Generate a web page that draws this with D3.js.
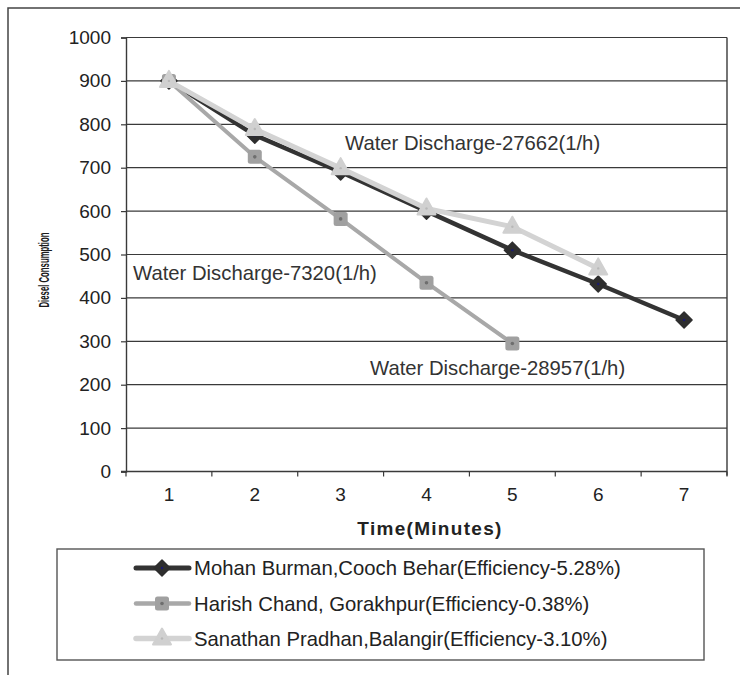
<!DOCTYPE html>
<html>
<head>
<meta charset="utf-8">
<script src="https://cdn.jsdelivr.net/npm/d3@7"></script>
<style>
  html, body { margin: 0; padding: 0; background: #fff; }
  svg { display: block; font-family: "Liberation Sans", Arial, Helvetica, sans-serif; }
</style>
</head>
<body>
<svg id="chart" width="740" height="675"></svg>
<script>
// Time steps (minutes) along the x axis
const times = ["1", "2", "3", "4", "5", "6", "7"];
// Diesel consumption for each trial
const mohan = [900, 775, 690, 600, 510, 432, 349];
const harish = [900, 725, 582, 435, 295];
const sanathan = [900, 789, 699, 606, 564, 468];
// Y axis ticks
const yTicks = [0, 100, 200, 300, 400, 500, 600, 700, 800, 900, 1000];
// Series names shown in the legend
const seriesNames = [
  "Mohan Burman,Cooch Behar(Efficiency-5.28%)",
  "Harish Chand, Gorakhpur(Efficiency-0.38%)",
  "Sanathan Pradhan,Balangir(Efficiency-3.10%)"
];
// Water discharge notes
const notes = [
  "Water Discharge-27662(1/h)",
  "Water Discharge-7320(1/h)",
  "Water Discharge-28957(1/h)"
];

const svg = d3.select("#chart");
const L = 126, R = 727, T = 37.5, B = 471.5;

const x = d3.scaleBand().domain(times).range([L, R]);
const y = d3.scaleLinear().domain([0, 1000]).range([B, T]);

// outer frame (top and left edges)
svg.append("path")
  .attr("d", "M8,675 L8,8 L740,8")
  .attr("fill", "none").attr("stroke", "#444").attr("stroke-width", 1.5);

// horizontal gridlines
svg.append("g").selectAll("line").data(yTicks.filter(v => v > 0)).join("line")
  .attr("x1", L).attr("x2", R)
  .attr("y1", d => y(d)).attr("y2", d => y(d))
  .attr("stroke", "#3a3a3a").attr("stroke-width", 1.2);

// right edge of plot area
svg.append("line")
  .attr("x1", R).attr("x2", R).attr("y1", T).attr("y2", B + 4)
  .attr("stroke", "#3a3a3a").attr("stroke-width", 1.4);

// y axis
const yAxis = svg.append("g").attr("transform", `translate(${L},0)`)
  .call(d3.axisLeft(y).tickValues(yTicks).tickSize(5).tickPadding(10).tickFormat(d3.format("d")));
yAxis.select(".domain").attr("stroke", "#3a3a3a").attr("stroke-width", 1.4);
yAxis.selectAll(".tick line").attr("stroke", "#3a3a3a").attr("stroke-width", 1.2);
yAxis.selectAll(".tick text")
  .attr("font-size", 19).attr("fill", "#222")
  .attr("font-family", "'Liberation Sans', Arial, sans-serif");

// x axis: baseline, boundary ticks and centred labels
svg.append("line").attr("x1", L - 5).attr("x2", R).attr("y1", B).attr("y2", B)
  .attr("stroke", "#3a3a3a").attr("stroke-width", 1.4);
const bounds = times.map(t => x(t)).concat([R]);
svg.append("g").selectAll("line").data(bounds).join("line")
  .attr("x1", d => d).attr("x2", d => d).attr("y1", B).attr("y2", B + 5)
  .attr("stroke", "#3a3a3a").attr("stroke-width", 1.2);
svg.append("g").selectAll("text").data(times).join("text")
  .attr("x", d => x(d) + x.bandwidth() / 2).attr("y", B + 29)
  .attr("text-anchor", "middle").attr("font-size", 19).attr("fill", "#222")
  .text(d => d);

// axis titles
svg.append("text")
  .attr("x", 430).attr("y", 535)
  .attr("text-anchor", "middle").attr("font-size", 19).attr("font-weight", "bold")
  .attr("letter-spacing", 1.3).attr("fill", "#222")
  .text("Time(Minutes)");
svg.append("text")
  .attr("transform", "translate(49,270) rotate(-90)")
  .attr("text-anchor", "middle")
  .attr("font-family", "'Liberation Sans Narrow', 'Liberation Sans', Arial, sans-serif")
  .attr("font-size", 14.5).attr("font-weight", "bold").attr("fill", "#1a1a1a")
  .attr("textLength", 75).attr("lengthAdjust", "spacingAndGlyphs")
  .text("Diesel Consumption");

// series styles
const styles = [
  { color: "#333333", width: 4.5, marker: "diamond", fill: "#2e2e2e", dot: "#1a1a6e" },
  { color: "#a8a8a8", width: 4, marker: "square", fill: "#a0a0a0", dot: "#6e6e6e" },
  { color: "#d3d3d3", width: 5, marker: "triangle", fill: "#d0d0d0", dot: "#b8b8b8" }
];
const series = [mohan, harish, sanathan];

function drawMarker(g, type, cx, cy, st) {
  if (type === "diamond") {
    g.append("path").attr("d", `M${cx},${cy - 8} L${cx + 8},${cy} L${cx},${cy + 8} L${cx - 8},${cy} Z`)
      .attr("fill", st.fill).attr("stroke", st.fill).attr("stroke-width", 1.5).attr("stroke-linejoin", "round");
  } else if (type === "square") {
    g.append("rect").attr("x", cx - 7).attr("y", cy - 7).attr("width", 14).attr("height", 14)
      .attr("rx", 2.5).attr("fill", st.fill);
  } else {
    g.append("path").attr("d", `M${cx},${cy - 10} L${cx + 9},${cy + 6} L${cx - 9},${cy + 6} Z`)
      .attr("fill", st.fill).attr("stroke", st.fill).attr("stroke-width", 2).attr("stroke-linejoin", "round");
  }
  g.append("circle").attr("cx", cx).attr("cy", cy).attr("r", type === "square" ? 1.8 : 1.2).attr("fill", st.dot);
}

const line = d3.line()
  .x((d, i) => x(times[i]) + x.bandwidth() / 2)
  .y(d => y(d));

series.forEach((vals, k) => {
  const st = styles[k];
  const g = svg.append("g");
  g.append("path").datum(vals).attr("d", line)
    .attr("fill", "none").attr("stroke", st.color).attr("stroke-width", st.width)
    .attr("stroke-linejoin", "round");
  vals.forEach((v, i) => drawMarker(g, st.marker, x(times[i]) + x.bandwidth() / 2, y(v), st));
});

// water discharge notes
const notePos = [[345, y(757)], [133, y(457)], [370, y(238)]];
svg.append("g").selectAll("text").data(notes).join("text")
  .attr("x", (d, i) => notePos[i][0]).attr("y", (d, i) => notePos[i][1])
  .attr("dy", "0.35em").attr("font-size", 20.3).attr("fill", "#333")
  .text(d => d);

// legend
const lg = svg.append("g");
lg.append("rect").attr("x", 57).attr("y", 549).attr("width", 647).attr("height", 111)
  .attr("fill", "#fff").attr("stroke", "#555").attr("stroke-width", 1.4);
const rowY = [568, 603.5, 638.5];
seriesNames.forEach((name, k) => {
  const st = styles[k];
  const g = lg.append("g");
  g.append("line").attr("x1", 136).attr("x2", 189).attr("y1", rowY[k]).attr("y2", rowY[k])
    .attr("stroke", st.color).attr("stroke-width", st.width + 0.5).attr("stroke-linecap", "round");
  drawMarker(g, st.marker, 162, rowY[k], st);
  g.append("text").attr("x", 194).attr("y", rowY[k]).attr("dy", "0.35em")
    .attr("font-size", 20.3).attr("fill", "#222").text(name);
});
</script>
</body>
</html>
